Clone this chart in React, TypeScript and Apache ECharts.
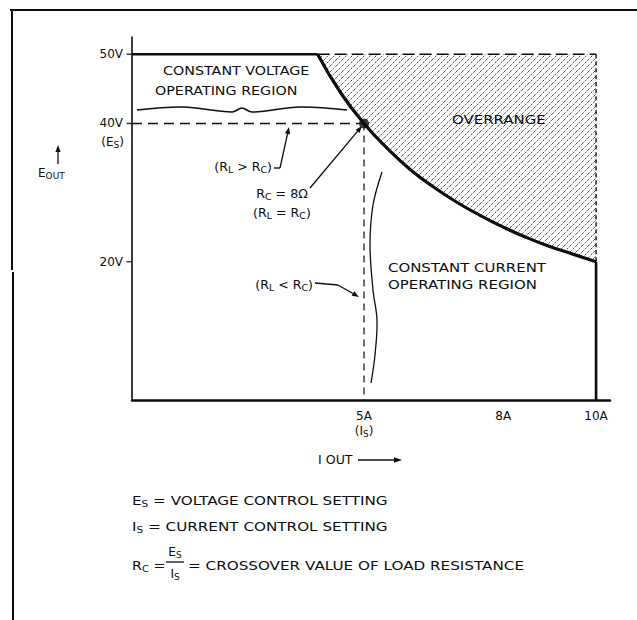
import React, { useEffect, useRef } from "react";
import * as echarts from "echarts";

const INK = "#0d0d0d";
const FONT = '"DejaVu Sans", sans-serif';

// ---------------- data ----------------
const xTickValues = [5, 8, 10];
const xTickLabels = ["5A", "8A", "10A"];
const yTickValues = [20, 40, 50];
const yTickLabels = ["20V", "40V", "50V"];

// constant-voltage limit, then the limiting curve, then constant-current limit
const cvLimit = [[0, 50], [4, 50]];
const powerCurve = [
  [4, 50], [4.5, 44.4], [5, 40], [5.5, 36.4], [6, 33.3], [6.5, 30.8], [7, 28.6],
  [7.5, 26.7], [8, 25], [8.5, 23.5], [9, 22.2], [9.5, 21.1], [10, 20],
];
const ccLimit = [[10, 20], [10, 0]];
const overrangeTop = [[4, 50], [10, 50]];
const overrangeRight = [[10, 50], [10, 20]];
const overrangeCeiling = 50;
const esSetting = [[0, 40], [5, 40]];
const isSetting = [[5, 40], [5, 0]];
const crossoverPoint = [[5, 40]];

// ---------------- helpers ----------------
const hatchSvg =
  "<svg xmlns='http://www.w3.org/2000/svg' width='6' height='6'>" +
  "<path d='M-1 1 L1 -1 M0 6 L6 0 M5 7 L7 5' stroke='#444' stroke-width='0.9' stroke-dasharray='2.4 1.3'/></svg>";
const hatchUrl = "data:image/svg+xml;charset=utf-8," + encodeURIComponent(hatchSvg);

const richBase = (size: number) => ({
  t: { fontSize: size, fontFamily: FONT, color: INK, lineHeight: size + 3 },
  s: { fontSize: Math.round(size * 0.72), fontFamily: FONT, color: INK, lineHeight: 4, verticalAlign: "bottom" },
});

function txt(x: number, y: number, text: string, size = 13, align = "left", sx = 1.15) {
  return {
    type: "text",
    x,
    y,
    z: 10,
    scaleX: sx,
    style: {
      text,
      rich: richBase(size),
      fill: INK,
      font: `${size}px ${FONT}`,
      align,
      verticalAlign: "middle",
    },
  };
}

function arrow(x1: number, y1: number, x2: number, y2: number, len = 7, half = 2.6, width = 1.3) {
  const dx = x2 - x1;
  const dy = y2 - y1;
  const d = Math.hypot(dx, dy);
  const ux = dx / d;
  const uy = dy / d;
  const bx = x2 - ux * len;
  const by = y2 - uy * len;
  return [
    { type: "line", z: 10, shape: { x1, y1, x2: bx, y2: by }, style: { stroke: INK, lineWidth: width } },
    {
      type: "polygon",
      z: 10,
      shape: { points: [[x2, y2], [bx - uy * half, by + ux * half], [bx + uy * half, by - ux * half]] },
      style: { fill: INK },
    },
  ];
}

function seg(x1: number, y1: number, x2: number, y2: number, w = 1.3) {
  return { type: "line", z: 10, shape: { x1, y1, x2, y2 }, style: { stroke: INK, lineWidth: w } };
}

function curve(points: number[][], w = 1.6) {
  return {
    type: "polyline",
    z: 10,
    shape: { points, smooth: 0.35 },
    style: { stroke: INK, lineWidth: w, fill: null },
  };
}

const sub = (main: string, s: string) => `{t|${main}}{s|${s}}`;

export default function App() {
  const ref = useRef<HTMLDivElement>(null);

  useEffect(() => {
    if (!ref.current) return;
    const chart = echarts.init(ref.current, null, { renderer: "svg" });

    const lineS = (data: number[][], width: number, type: any = "solid", smooth = false, z = 3) => ({
      type: "line",
      data,
      smooth,
      symbol: "none",
      z,
      lineStyle: { color: INK, width, type },
      silent: true,
    });

    const option: any = {
      animation: false,
      backgroundColor: "#fff",
      grid: { left: 132, right: 27, top: 37, bottom: 220 },
      xAxis: {
        type: "value",
        min: 0,
        max: 10.3,
        interval: 1,
        axisLine: { show: true, lineStyle: { color: INK, width: 2.5 } },
        axisTick: { show: false },
        splitLine: { show: false },
        axisLabel: {
          margin: 8,
          showMaxLabel: false,
          rich: richBase(12),
          formatter: (v: number) => {
            const i = xTickValues.indexOf(v);
            if (i < 0) return "";
            if (v === 5) return `{t|${xTickLabels[i]}}\n{t|(I}{s|S}{t|)}`;
            return `{t|${xTickLabels[i]}}`;
          },
        },
      },
      yAxis: {
        type: "value",
        min: 0,
        max: 52.5,
        interval: 10,
        axisLine: { show: true, lineStyle: { color: INK, width: 1.6 } },
        axisTick: { show: false },
        splitLine: { show: false },
        axisLabel: {
          margin: 9,
          showMaxLabel: false,
          rich: richBase(12),
          formatter: (v: number) => {
            const i = yTickValues.indexOf(v);
            return i < 0 ? "" : `{t|${yTickLabels[i]}}`;
          },
        },
      },
      series: [
        {
          type: "line",
          data: powerCurve,
          smooth: true,
          symbol: "none",
          z: 1,
          silent: true,
          lineStyle: { width: 0, opacity: 0 },
          areaStyle: {
            origin: overrangeCeiling,
            opacity: 1,
            color: { image: hatchUrl, repeat: "repeat", imageWidth: 6, imageHeight: 6 },
          },
        },
        lineS(cvLimit, 2.6),
        lineS(powerCurve, 3.2, "solid", true),
        lineS(ccLimit, 2.6),
        lineS(overrangeTop, 1.6, [12, 5]),
        lineS(overrangeRight, 1.4, [4, 3]),
        lineS(esSetting, 1.5, [10, 6]),
        lineS(isSetting, 1.2, [7, 5]),
        {
          type: "scatter",
          data: crossoverPoint,
          symbolSize: 10,
          z: 5,
          silent: true,
          itemStyle: { color: INK },
        },
        {
          type: "scatter",
          data: yTickValues.map((v) => [0, v]),
          symbol: "rect",
          symbolSize: [5, 1.5],
          symbolOffset: [-3, 0],
          clip: false,
          silent: true,
          itemStyle: { color: INK },
        },
      ],
      graphic: {
        elements: [
          // frame
          seg(10, 10, 637, 10, 2),
          seg(12, 10, 12, 270, 2),
          seg(13, 272, 13, 620, 2),
          // y sub-label
          txt(124, 142, `{t|(E}{s|S}{t|)}`, 12, "right", 1),
          // E_OUT with arrow
          ...arrow(58, 164, 58, 145),
          txt(38, 173, sub("E", "OUT"), 12, "left", 1),
          // I_OUT with arrow
          txt(318, 460, "{t|I OUT}", 12, "left", 1.05),
          ...arrow(358, 460, 402, 460, 8, 2.8, 1.6),
          // region labels
          txt(163, 70, "{t|CONSTANT VOLTAGE}", 13, "left", 1.1),
          txt(155, 90, "{t|OPERATING REGION}", 13, "left", 1.1),
          curve([[137, 110], [183, 107], [232, 112], [242, 108], [252, 112], [300, 107], [347, 110]]),
          txt(452, 119, "{t|OVERRANGE}", 13, "left", 1.15),
          txt(388, 267, "{t|CONSTANT CURRENT}", 13, "left", 1.15),
          txt(388, 284, "{t|OPERATING REGION}", 13, "left", 1.15),
          curve([[382, 172], [373, 205], [370, 245], [373, 290], [377, 320], [375, 355], [371, 383]], 1.3),
          // (RL > RC)
          txt(272, 167, `{t|(R}{s|L}{t| > R}{s|C}{t|)}`, 12, "right", 1.05),
          seg(274, 168, 280, 168, 1.4),
          ...arrow(280, 168, 289, 127),
          // crossover annotation
          txt(282, 194, `{t|R}{s|C}{t| = 8Ω}`, 12, "center", 1.05),
          txt(282, 213, `{t|(R}{s|L}{t| = R}{s|C}{t|)}`, 12, "center", 1.05),
          ...arrow(310, 188, 362, 126),
          // (RL < RC)
          txt(313, 285, `{t|(R}{s|L}{t| < R}{s|C}{t|)}`, 12, "right", 1.05),
          seg(315, 283, 338, 285, 1.4),
          ...arrow(338, 285, 359, 297),
          // definitions
          txt(132, 500, `{t|E}{s|S}{t| = VOLTAGE CONTROL SETTING}`, 13, "left", 1.17),
          txt(132, 526, `{t|I}{s|S}{t| = CURRENT CONTROL SETTING}`, 13, "left", 1.17),
          txt(132, 565, `{t|R}{s|C}{t| =}`, 13, "left", 1.1),
          txt(175, 552, `{t|E}{s|S}`, 12, "center", 1),
          seg(166, 562, 184, 562, 1.3),
          txt(175, 574, `{t|I}{s|S}`, 12, "center", 1),
          txt(188, 565, "{t|= CROSSOVER VALUE OF LOAD RESISTANCE}", 13, "left", 1.17),
        ],
      },
    };

    chart.setOption(option);
    return () => chart.dispose();
  }, []);

  return (
    <div
      ref={ref}
      style={{ position: "fixed", left: 0, top: 0, width: 637, height: 620, background: "#fff" }}
    />
  );
}
